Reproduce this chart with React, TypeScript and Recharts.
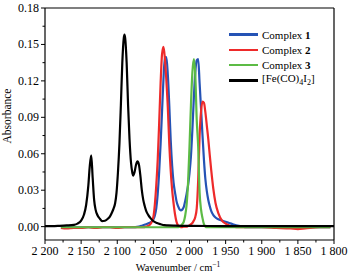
import { Legend, Line, LineChart, ReferenceLine, XAxis, YAxis } from "recharts";

// wavenumber grid (cm-1) shared by the three complexes
const complexWn = [
  2178, 2170, 2160, 2150, 2140, 2130, 2120, 2110, 2100, 2090,
  2080, 2070, 2065, 2060, 2056, 2053, 2050, 2048, 2046, 2044,
  2042, 2040, 2038, 2036, 2034, 2032, 2030, 2028, 2026, 2024,
  2022, 2020, 2018, 2016, 2014, 2012, 2010, 2008, 2006, 2004,
  2002, 2000, 1998, 1996, 1994, 1992, 1990, 1988, 1986, 1984,
  1982, 1980, 1978, 1976, 1974, 1972, 1970, 1967, 1964, 1960,
  1955, 1950, 1945, 1940, 1930, 1920, 1900, 1880, 1860, 1850,
  1840, 1820, 1805,
];

const complex1 = [
  -0.0005, -0.0005, -0.0005, -0.0005, -0.0005, -0.0005, -0.0005, -0.0005, -0.0005, -0.0005,
  -0.0005, 0.0, 0.001, 0.002, 0.003, 0.004, 0.006, 0.009, 0.015, 0.027,
  0.045, 0.068, 0.095, 0.122, 0.1395, 0.1395, 0.125, 0.1, 0.071, 0.05,
  0.036, 0.028, 0.021, 0.017, 0.0145, 0.0134, 0.014, 0.016, 0.021, 0.027,
  0.034, 0.044, 0.058, 0.08, 0.106, 0.127, 0.137, 0.138, 0.118, 0.097,
  0.075, 0.055, 0.039, 0.029, 0.022, 0.017, 0.013, 0.0095, 0.0075, 0.006,
  0.005, 0.004, 0.003, 0.002, 0.0005, -0.0005, -0.0005, -0.0005, -0.0005, -0.001,
  -0.0005, -0.0005, -0.0005,
];

const complex2 = [
  -0.001, -0.0015, -0.001, -0.001, -0.0005, -0.001, -0.0005, -0.0005, -0.001, -0.0005,
  -0.0005, -0.0005, -0.0005, 0.0, 0.001, 0.003, 0.008, 0.018, 0.034, 0.055,
  0.085, 0.118, 0.142, 0.148, 0.138, 0.12, 0.098, 0.068, 0.046, 0.03,
  0.019, 0.01, 0.004, 0.001, 0.0, -0.0005, -0.0005, 0.0, 0.0, 0.0,
  0.0005, 0.001, 0.002, 0.003, 0.005, 0.008, 0.015, 0.038, 0.075, 0.095,
  0.103, 0.102, 0.094, 0.083, 0.072, 0.059, 0.047, 0.031, 0.0195, 0.011,
  0.005, 0.0025, 0.001, 0.0, -0.0005, -0.0005, -0.0005, -0.001, -0.0015, -0.002,
  -0.0015, -0.0005, -0.0005,
];

const complex3 = [
  -0.0005, -0.0005, -0.0005, -0.0005, -0.0005, -0.0005, -0.0005, -0.0005, -0.0005, -0.0005,
  -0.0005, -0.0005, -0.0005, -0.0005, -0.0005, -0.0005, -0.0005, -0.0005, -0.0005, -0.0005,
  -0.0005, -0.0005, -0.0005, -0.0005, -0.0005, -0.0005, -0.0005, -0.0005, -0.0005, -0.0005,
  -0.0005, -0.0005, -0.0005, -0.0005, 0.0, 0.0005, 0.002, 0.004, 0.009, 0.018,
  0.036, 0.066, 0.1, 0.127, 0.138, 0.125, 0.088, 0.066, 0.028, 0.014,
  0.007, 0.002, 0.0, -0.0005, -0.0005, -0.0005, -0.0005, -0.0005, -0.0005, -0.0005,
  -0.0005, -0.0005, -0.0005, -0.0005, -0.0005, -0.0005, -0.0005, -0.0005, -0.0005, -0.0005,
  -0.0005, -0.0005, -0.0005,
];

// [Fe(CO)4I2] reference spectrum
const ironWn = [
  2200, 2190, 2180, 2170, 2160, 2155, 2150, 2146, 2143, 2140,
  2138, 2136, 2134, 2132, 2130, 2127, 2124, 2121, 2117, 2113,
  2110, 2107, 2105, 2103, 2101, 2099, 2097, 2095, 2093, 2091,
  2090, 2089, 2087, 2085, 2083, 2081, 2079, 2078, 2076, 2074,
  2072, 2070, 2068, 2066, 2064, 2062, 2060, 2057, 2054, 2050,
  2045, 2040, 2035, 2030, 2020, 2000, 1950, 1900, 1850, 1800,
];

const ironAbs = [
  0.0005, 0.0005, 0.0007, 0.001, 0.0015, 0.0025, 0.005, 0.01, 0.018, 0.034,
  0.05, 0.0586, 0.04, 0.022, 0.014, 0.009, 0.0065, 0.0045, 0.0048, 0.0065,
  0.0085, 0.012, 0.015, 0.019, 0.028, 0.045, 0.068, 0.1, 0.135, 0.155,
  0.158, 0.155, 0.135, 0.1, 0.072, 0.053, 0.044, 0.042, 0.045, 0.051,
  0.0537, 0.051, 0.042, 0.03, 0.022, 0.017, 0.013, 0.0095, 0.007, 0.0045,
  0.003, 0.002, 0.0012, 0.001, 0.0008, 0.0006, 0.0005, 0.0005, 0.0005, 0.0005,
];

const xMajorTicks = [2200, 2150, 2100, 2050, 2000, 1950, 1900, 1850, 1800];
const xMinorTicks = [2175, 2125, 2075, 2025, 1975, 1925, 1875, 1825];
const yMajorTicks = [0, 0.03, 0.06, 0.09, 0.12, 0.15, 0.18];
const yMinorTicks = [0.015, 0.045, 0.075, 0.105, 0.135, 0.165];

const toRows = (wn: number[], abs: number[]) => wn.map((w, i) => ({ wn: w, abs: abs[i] }));

const series = [
  { name: "Complex 1", color: "#2553b5", data: toRows(complexWn, complex1) },
  { name: "Complex 2", color: "#ee2a2a", data: toRows(complexWn, complex2) },
  { name: "Complex 3", color: "#5cbb45", data: toRows(complexWn, complex3) },
  { name: "[Fe(CO)4I2]", color: "#000000", data: toRows(ironWn, ironAbs) },
];

const FONT = "'Liberation Serif', 'Times New Roman', serif";

const isMajor = (list: number[], v: number) => list.some((t) => Math.abs(t - v) < 1e-9);

const fmtWn = (n: number) => `${Math.floor(n / 1000)} ${String(n % 1000).padStart(3, "0")}`;

function XTick({ x, y, payload }: any) {
  const major = isMajor(xMajorTicks, payload.value);
  return (
    <g>
      <line x1={x} x2={x} y1={y} y2={y + (major ? 4 : 2.5)} stroke="#000" strokeWidth={1} />
      {major && (
        <text x={x} y={y + 15} textAnchor="middle" fontSize={12} fontFamily={FONT} fill="#000">
          {fmtWn(payload.value)}
        </text>
      )}
    </g>
  );
}

function YTick({ x, y, payload }: any) {
  const major = isMajor(yMajorTicks, payload.value);
  return (
    <g>
      <line x1={x} x2={x - (major ? 4 : 2.5)} y1={y} y2={y} stroke="#000" strokeWidth={1} />
      {major && (
        <text x={x - 6} y={y + 4} textAnchor="end" fontSize={12} fontFamily={FONT} fill="#000">
          {payload.value.toFixed(2)}
        </text>
      )}
    </g>
  );
}

function legendName(name: string) {
  if (name.startsWith("Complex")) {
    return (
      <>
        Complex <b>{name.slice(8)}</b>
      </>
    );
  }
  return (
    <>
      [Fe(CO)<sub style={{ fontSize: 8 }}>4</sub>I<sub style={{ fontSize: 8 }}>2</sub>]
    </>
  );
}

function LegendBox() {
  return (
    <div style={{ fontFamily: FONT, fontSize: 11, color: "#000" }}>
      {series.map((s) => (
        <div key={s.name} style={{ display: "flex", alignItems: "center", height: 15.3 }}>
          <span style={{ display: "inline-block", width: 29, height: 2.5, background: s.color, marginRight: 4 }} />
          <span style={{ lineHeight: "12px" }}>{legendName(s.name)}</span>
        </div>
      ))}
    </div>
  );
}

export default function App() {
  return (
    <div style={{ position: "absolute", left: 0, top: 0, background: "#fff" }}>
      <LineChart width={350} height={274} margin={{ top: 8, right: 16, bottom: 0, left: 0 }}>
        <XAxis
          dataKey="wn"
          type="number"
          domain={[1800, 2200]}
          reversed
          allowDataOverflow
          ticks={[...xMajorTicks, ...xMinorTicks]}
          interval={0}
          height={34}
          tickSize={0}
          tickMargin={0}
          tickLine={false}
          tick={<XTick />}
          axisLine={{ stroke: "#000", strokeWidth: 1.2 }}
          label={() => (
            <text x={178} y={271} textAnchor="middle" fontSize={10.5} fontFamily={FONT} fill="#000">
              Wavenumber / cm
              <tspan fontSize={7.5} dy={-4}>
                −1
              </tspan>
            </text>
          )}
        />
        <YAxis
          type="number"
          domain={[-0.011, 0.18]}
          allowDataOverflow
          ticks={[...yMajorTicks, ...yMinorTicks]}
          interval={0}
          width={45}
          tickSize={0}
          tickMargin={0}
          tickLine={false}
          tick={<YTick />}
          axisLine={{ stroke: "#000", strokeWidth: 1.2 }}
          label={() => (
            <text
              x={11}
              y={116}
              transform="rotate(-90 11 116)"
              textAnchor="middle"
              fontSize={11.5}
              fontFamily={FONT}
              fill="#000"
            >
              Absorbance
            </text>
          )}
        />
        <ReferenceLine y={0.18} stroke="#000" strokeWidth={1.2} />
        <ReferenceLine x={1800} stroke="#000" strokeWidth={1.2} />
        {series.map((s) => (
          <Line
            key={s.name}
            data={s.data}
            dataKey="abs"
            name={s.name}
            type="monotone"
            stroke={s.color}
            strokeWidth={2.2}
            dot={false}
            activeDot={false}
            isAnimationActive={false}
          />
        ))}
        <Legend
          layout="vertical"
          align="center"
          verticalAlign="middle"
          wrapperStyle={{ left: 229, top: 27, width: 115 }}
          content={() => <LegendBox />}
        />
      </LineChart>
    </div>
  );
}
